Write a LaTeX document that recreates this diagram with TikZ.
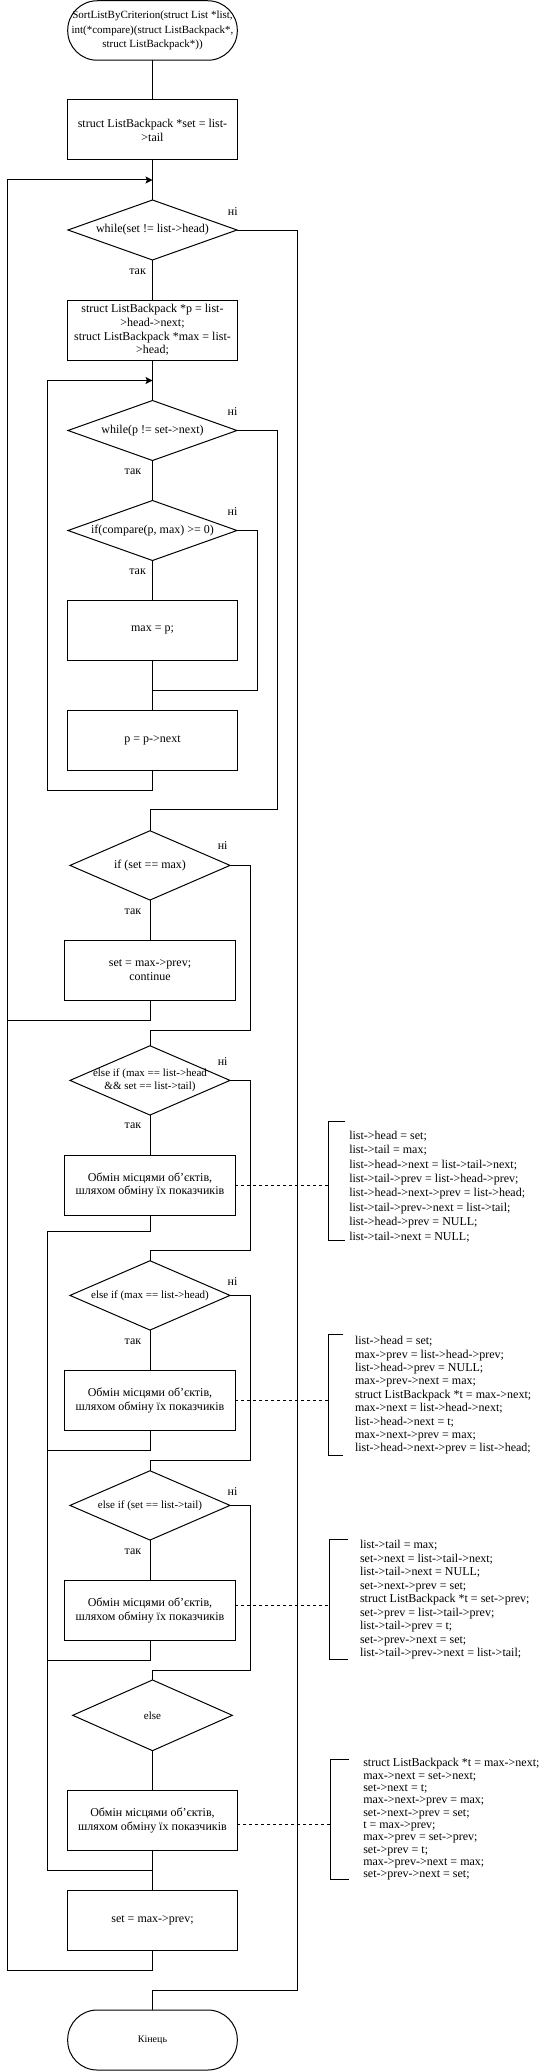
\documentclass[tikz,border=0pt]{standalone}
\usepackage{fontspec}
\setmainfont{Liberation Serif}
\usetikzlibrary{shapes.geometric,arrows.meta}
\begin{document}
\begin{tikzpicture}[x=1pt,y=-1pt,
  every node/.style={inner sep=0pt, outer sep=0pt},
  ln/.style={line width=1pt},
  box/.style={draw, line width=1pt, rectangle, minimum width=169.6pt, minimum height=60pt, align=center, font=\fontsize{12}{13.8}\selectfont},
  boxb/.style={box, minimum width=170.7pt},
  term/.style={box, rounded corners=29.5pt, minimum height=59.5pt},
  dia/.style={draw, line width=1pt, diamond, minimum width=169pt, minimum height=60pt},
  diab/.style={dia, minimum width=160pt, minimum height=69.3pt},
  dt/.style={font=\fontsize{12}{13.3}\selectfont, align=center},
  dts/.style={font=\fontsize{11}{13.3}\selectfont, align=center},
  lbl/.style={font=\fontsize{12}{14}\selectfont},
  code/.style={anchor=west, align=left},
  dsh/.style={line width=1pt, dash pattern=on 3pt off 3pt},
  arr/.style={ln, -{Stealth[length=7pt,width=7pt,inset=1.5pt]}}
]
\useasboundingbox (0,0) rectangle (548,2071);

% ---------- nodes ----------
\node[term, font=\fontsize{11}{14.2}\selectfont] (start) at (152.5,30.5) {SortListByCriterion(struct List *list,\\int(*compare)(struct ListBackpack*,\\struct ListBackpack*))};
\node[box] (set0) at (152.5,130) {struct ListBackpack *set = list-\\>tail};
\node[dia, label={[dt]center:{while(set != list->head)}}] (d1) at (152.5,230) {};
\node[box] (init) at (152.5,330) {struct ListBackpack *p = list-\\>head->next;\\struct ListBackpack *max = list-\\>head;};
\node[dia, label={[dt]center:{while(p != set->next)}}] (d2) at (152.5,430.5) {};
\node[dia, label={[dt]center:{if(compare(p, max) >= 0)}}] (d3) at (152.5,530.5) {};
\node[box] (maxp) at (152.5,630) {max = p;};
\node[box] (pnext) at (152.5,740) {p = p->next};

\node[diab, label={[dt]center:{if (set == max)}}] (d4) at (150,865.4) {};
\node[boxb] (cont) at (150,970) {set = max->prev;\\continue};
\node[diab, label={[dts]center:{else if (max == list->head\\\&\& set == list->tail)}}] (d5) at (150,1080.4) {};
\node[boxb] (sw1) at (150,1185) {Обмін місцями об'єктів,\\шляхом обміну їх показчиків};
\node[diab, label={[dts]center:{else if (max == list->head)}}] (d6) at (150,1295.4) {};
\node[boxb] (sw2) at (150,1400.3) {Обмін місцями об'єктів,\\шляхом обміну їх показчиків};
\node[diab, label={[dts]center:{else if (set == list->tail)}}] (d7) at (150,1505.4) {};
\node[boxb] (sw3) at (150,1610.3) {Обмін місцями об'єктів,\\шляхом обміну їх показчиків};
\node[diab, minimum width=159.6pt, minimum height=70.7pt, label={[dts]center:{else}}] (d8) at (152.5,1715.3) {};
\node[box] (sw4) at (152.5,1820.3) {Обмін місцями об'єктів,\\шляхом обміну їх показчиків};
\node[box] (setp) at (152.5,1920) {set = max->prev;};
\node[term, font=\fontsize{10}{12}\selectfont, minimum height=60pt] (fin) at (152.5,2040) {Кінець};

% ---------- yes / no labels ----------
\node[lbl] (y1) at (137.6,271.7) {так};
\node[lbl] (y2) at (133,471.7) {так};
\node[lbl] (y3) at (137.6,571.7) {так};
\node[lbl] (y4) at (133,911.7) {так};
\node[lbl] (y5) at (133,1126) {так};
\node[lbl] (y6) at (133,1341.7) {так};
\node[lbl] (y7) at (133,1551.7) {так};
\node[lbl] (n1l) at (232.8,211.7) {ні};
\node[lbl] (n2l) at (232.5,411.7) {ні};
\node[lbl] (n3l) at (232.5,511.7) {ні};
\node[lbl] (n4l) at (222.7,846) {ні};
\node[lbl] (n5l) at (222.7,1061.7) {ні};
\node[lbl] (n6l) at (232.5,1281.7) {ні};
\node[lbl] (n7l) at (232.5,1491.7) {ні};

% ---------- coordinates ----------
\coordinate (a1) at (152.5,180);
\coordinate (a2) at (152.5,380.5);
\coordinate (c2) at (47.7,790);
\coordinate (m3) at (257.3,690);
\coordinate (j3) at (152.5,690);
\coordinate (n1) at (297,1990);
\coordinate (n2) at (277.3,809.3);
\coordinate (n4) at (250,1030);
\coordinate (n5) at (250,1250);
\coordinate (n6) at (250,1460.7);
\coordinate (n7) at (250,1670);
\coordinate (k5) at (7.3,1020);
\coordinate (k6) at (47.7,1231.7);
\coordinate (k7) at (47.7,1450.7);
\coordinate (k8) at (47.7,1660.7);
\coordinate (j9) at (152.5,1870);
\coordinate (k10) at (7.3,1970);

% ---------- connectors ----------
\draw[ln] (start) -- (set0);
\draw[ln] (set0) -- (d1);
\draw[ln] (d1) -- (init);
\draw[ln] (init) -- (d2);
\draw[ln] (d2) -- (d3);
\draw[ln] (d3) -- (maxp);
\draw[ln] (maxp) -- (pnext);
\draw[ln] (d3.east) -| (m3) -- (j3);
\draw[arr] (pnext.south) |- (c2) |- (a2);
\draw[ln] (d2.east) -| (n2) -| (d4.north);
\draw[ln] (d4) -- (cont);
\draw[ln] (cont.south) |- (k5);
\draw[ln] (d4.east) -| (n4) -| (d5.north);
\draw[ln] (d5) -- (sw1);
\draw[ln] (sw1.south) |- (k6) |- (j9);
\draw[ln] (d5.east) -| (n5) -| (d6.north);
\draw[ln] (d6) -- (sw2);
\draw[ln] (sw2.south) |- (k7);
\draw[ln] (d6.east) -| (n6) -| (d7.north);
\draw[ln] (d7) -- (sw3);
\draw[ln] (sw3.south) |- (k8);
\draw[ln] (d7.east) -| (n7) -| (d8.north);
\draw[ln] (d8) -- (sw4);
\draw[ln] (sw4) -- (setp);
\draw[arr] (setp.south) |- (k10) |- (a1);
\draw[ln] (d1.east) -| (n1) -| (fin.north);

% ---------- annotations ----------
\coordinate (br1) at (328.3,1185);
\coordinate (br2) at (328.3,1400);
\coordinate (br3) at (329.3,1605);
\coordinate (br4) at (330,1824.5);
\draw[ln] (345,1121.7) -- (328.3,1121.7) -- (328.3,1240) -- (345,1240);
\draw[ln] (343.3,1334) -- (328.3,1334) -- (328.3,1455) -- (343.3,1455);
\draw[ln] (348.3,1539.3) -- (329.3,1539.3) -- (329.3,1659.3) -- (348.3,1659.3);
\draw[ln] (349.3,1759.3) -- (330,1759.3) -- (330,1879.3) -- (349.3,1879.3);
\draw[dsh] (sw1.east) -- (br1);
\draw[dsh] (sw2.east |- br2) -- (br2);
\draw[dsh] (sw3.east |- br3) -- (br3);
\draw[dsh] (sw4.east |- br4) -- (br4);

\node[code, font=\fontsize{12}{14.43}\selectfont] (t1) at (349.3,1186.5) {list->head = set;\\list->tail = max;\\list->head->next = list->tail->next;\\list->tail->prev = list->head->prev;\\list->head->next->prev = list->head;\\list->tail->prev->next = list->tail;\\list->head->prev = NULL;\\list->tail->next = NULL;};
\node[code, font=\fontsize{12}{13.4}\selectfont] (t2) at (355,1395.3) {list->head = set;\\max->prev = list->head->prev;\\list->head->prev = NULL;\\max->prev->next = max;\\struct ListBackpack *t = max->next;\\max->next = list->head->next;\\list->head->next = t;\\max->next->prev = max;\\list->head->next->prev = list->head;};
\node[code, font=\fontsize{12}{13.5}\selectfont] (t3) at (360,1600) {list->tail = max;\\set->next = list->tail->next;\\list->tail->next = NULL;\\set->next->prev = set;\\struct ListBackpack *t = set->prev;\\set->prev = list->tail->prev;\\list->tail->prev = t;\\set->prev->next = set;\\list->tail->prev->next = list->tail;};
\node[code, font=\fontsize{12}{12.33}\selectfont] (t4) at (363.3,1819.5) {struct ListBackpack *t = max->next;\\max->next = set->next;\\set->next = t;\\max->next->prev = max;\\set->next->prev = set;\\t = max->prev;\\max->prev = set->prev;\\set->prev = t;\\max->prev->next = max;\\set->prev->next = set;};
\end{tikzpicture}
\end{document}
